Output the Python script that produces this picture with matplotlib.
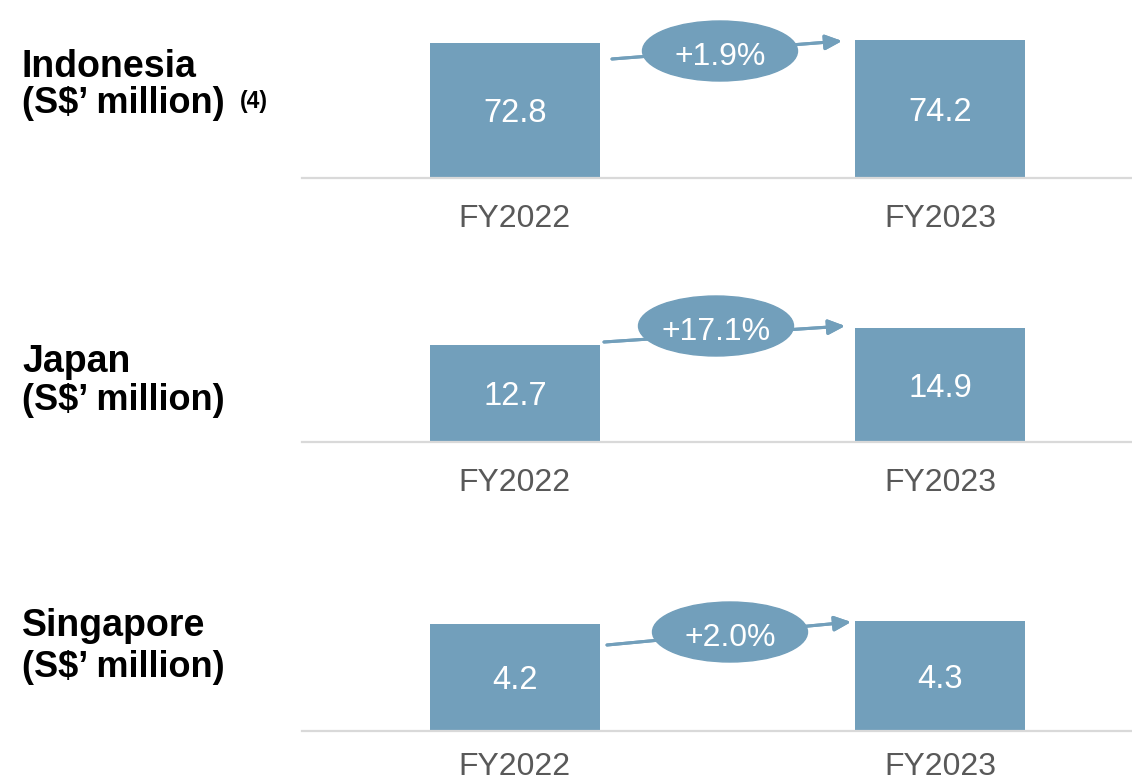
import matplotlib.pyplot as plt
from matplotlib.patches import Ellipse

plt.rcParams['font.family'] = ['Liberation Sans', 'DejaVu Sans']

years = ["FY2022", "FY2023"]
regions = ["Indonesia", "Japan", "Singapore"]
indonesia = [72.8, 74.2]
japan = [12.7, 14.9]
singapore = [4.2, 4.3]
growth = ["+1.9%", "+17.1%", "+2.0%"]
superscripts = ["(4)", "", ""]

bar_col = "#729FBB"
grey_txt = "#595959"

W, H = 1132, 781
fig = plt.figure(figsize=(W / 100, H / 100), dpi=100)


def fx(x):
    return x / W


def fy(y):
    return 1 - y / H


# per panel: baseline px, y-limit top (data), title baselines, ellipse centre, arrow ends
panels = [
    dict(vals=indonesia, base=178, ymax=72.8 * 150 / 135, t1=77, t2=113,
         ell=(720, 51), arr=((612, 59), (842, 41)), pad=18.5),
    dict(vals=japan, base=442, ymax=12.7 * 150 / 97, t1=372, t2=410,
         ell=(716, 326), arr=((604, 342), (845, 326)), pad=18.5),
    dict(vals=singapore, base=731, ymax=4.2 * 150 / 107, t1=636, t2=677,
         ell=(730, 632), arr=((607, 645), (851, 622)), pad=15),
]

val_fs = 23.5
cap = 0.716 * val_fs  # cap height in points, to centre the digits

for i, p in enumerate(panels):
    ax = fig.add_axes([fx(302), fy(p["base"]), 830 / W, 150 / H])
    ax.bar([0, 1], p["vals"], width=0.4, color=bar_col)
    ax.set_xlim(-0.501, 1.452)
    ax.set_ylim(0, p["ymax"])
    for x, v in zip([0, 1], p["vals"]):
        ax.annotate(f"{v:.1f}", (x, v / 2), xytext=(0, -cap / 2),
                    textcoords="offset points", ha="center", va="baseline",
                    color="white", fontsize=val_fs)
    ax.set_xticks([0, 1], years, fontsize=23, color=grey_txt)
    ax.tick_params(axis="x", length=0, pad=p["pad"])
    ax.set_yticks([])
    for s in ["top", "left", "right"]:
        ax.spines[s].set_visible(False)
    ax.spines["bottom"].set_color("#D9D9D9")
    ax.spines["bottom"].set_linewidth(1.6)
    ax.patch.set_alpha(0)

    # title
    fig.text(fx(22), fy(p["t1"]), regions[i], fontsize=27, fontweight="bold",
             va="baseline", ha="left")
    fig.text(fx(22), fy(p["t2"]), "(S$\u2019 million)", fontsize=26,
             fontweight="bold", va="baseline", ha="left")
    if superscripts[i]:
        fig.text(fx(240), fy(p["t2"] - 5), superscripts[i], fontsize=16.5,
                 fontweight="bold", va="baseline", ha="left")

    # growth arrow + ellipse
    (x0, y0), (x1, y1) = p["arr"]
    fig.add_artist(plt.annotate(
        "", xy=(fx(x1), fy(y1)), xytext=(fx(x0), fy(y0)),
        xycoords=fig.transFigure, textcoords=fig.transFigure,
        arrowprops=dict(arrowstyle="-|>,head_length=1.0,head_width=0.45",
                        color=bar_col, lw=2.2, shrinkA=0, shrinkB=0)))
    cx, cy = p["ell"]
    fig.add_artist(Ellipse((fx(cx), fy(cy)), 155 / W, 60 / H,
                           transform=fig.transFigure, color=bar_col, zorder=5))
    fig.text(fx(cx), fy(cy + 2 + cap / 2 * 100 / 72), growth[i], ha="center",
             va="baseline", color="white", fontsize=23, zorder=6)

fig.savefig("out.png", dpi=100)
